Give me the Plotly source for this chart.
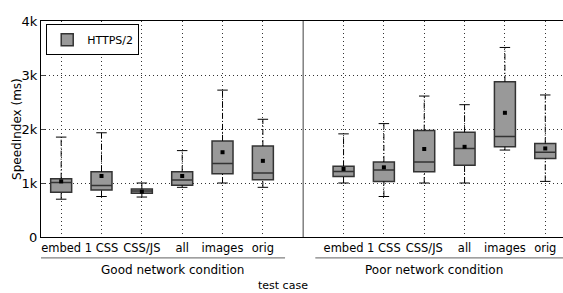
import plotly.graph_objects as go

categories = ["embed", "1 CSS", "CSS/JS", "all", "images", "orig"]
groups = ["Good network condition", "Poor network condition"]

# values in ms
good_lower = [700, 750, 740, 920, 1000, 920]
good_q1 = [830, 870, 810, 960, 1170, 1060]
good_median = [1010, 955, 850, 1055, 1360, 1185]
good_q3 = [1080, 1210, 890, 1210, 1780, 1685]
good_upper = [1850, 1930, 1000, 1600, 2720, 2180]
good_mean = [1030, 1130, 840, 1130, 1570, 1410]

poor_lower = [1000, 750, 1000, 1000, 1610, 1030]
poor_q1 = [1120, 1030, 1210, 1330, 1670, 1455]
poor_median = [1215, 1240, 1390, 1640, 1860, 1570]
poor_q3 = [1310, 1390, 1970, 1940, 2875, 1730]
poor_upper = [1910, 2100, 2610, 2450, 3510, 2630]
poor_mean = [1260, 1290, 1630, 1670, 2300, 1640]

pos_good = list(range(6))
pos_poor = [i + 7 for i in range(6)]
pos = pos_good + pos_poor
lower = good_lower + poor_lower
q1 = good_q1 + poor_q1
med = good_median + poor_median
q3 = good_q3 + poor_q3
upper = good_upper + poor_upper
mean = good_mean + poor_mean

FONT = "DejaVu Sans"
fig = go.Figure()

# whiskers (dash-dot)
wx, wy = [], []
for p, lo, a, b, hi in zip(pos, lower, q1, q3, upper):
    wx += [p, p, None, p, p, None]
    wy += [lo, a, None, b, hi, None]
fig.add_trace(go.Scatter(x=wx, y=wy, mode="lines", showlegend=False, hoverinfo="skip",
                         line=dict(color="black", width=1, dash="6px,2px,1px,2px")))
# caps
cw = 0.13
cx, cy = [], []
for p, lo, hi in zip(pos, lower, upper):
    cx += [p - cw, p + cw, None, p - cw, p + cw, None]
    cy += [lo, lo, None, hi, hi, None]
fig.add_trace(go.Scatter(x=cx, y=cy, mode="lines", showlegend=False, hoverinfo="skip",
                         line=dict(color="black", width=1)))

fig.add_trace(go.Box(
    name="HTTPS/2", x=pos, q1=q1, median=med, q3=q3, lowerfence=q1, upperfence=q3,
    width=0.52, whiskerwidth=0, fillcolor="#999999",
    line=dict(color="#333333", width=1.5), showlegend=True, hoverinfo="skip"))

fig.add_trace(go.Scatter(x=pos, y=mean, mode="markers", showlegend=False,
                         marker=dict(symbol="square", size=4, color="black")))

# separator
fig.add_shape(type="line", x0=6, x1=6, y0=0, y1=4000, xref="x", yref="y",
              line=dict(color="#808080", width=1.5))
# group underlines
fig.add_shape(type="line", x0=-0.5, x1=5.55, y0=-0.097, y1=-0.097, xref="x", yref="paper",
              line=dict(color="#808080", width=1.2))
fig.add_shape(type="line", x0=6.3, x1=12.6, y0=-0.097, y1=-0.097, xref="x", yref="paper",
              line=dict(color="#808080", width=1.2))
fig.add_annotation(text=groups[0], x=2.75, y=-0.153, xref="x", yref="paper",
                   showarrow=False, yanchor="middle", font=dict(size=12, family=FONT, color="black"))
fig.add_annotation(text=groups[1], x=9.25, y=-0.153, xref="x", yref="paper",
                   showarrow=False, yanchor="middle", font=dict(size=12, family=FONT, color="black"))
fig.add_annotation(text="test case", x=5.5, y=-0.225, xref="x", yref="paper",
                   showarrow=False, yanchor="middle", font=dict(size=11, family=FONT, color="black"))
fig.add_annotation(text="SpeedIndex (ms)", x=-0.046, y=0.5, xref="paper", yref="paper",
                   textangle=-90, showarrow=False, xanchor="center",
                   font=dict(size=12, family=FONT, color="black"))

fig.update_layout(
    width=563, height=293,
    margin=dict(l=41, r=0, t=21, b=56, autoexpand=False),
    plot_bgcolor="white", paper_bgcolor="white",
    font=dict(family=FONT, size=12, color="black"),
    showlegend=True,
    legend=dict(x=0.01, y=0.985, xanchor="left", yanchor="top",
                bordercolor="black", borderwidth=1, font=dict(size=11),
                bgcolor="white", tracegroupgap=0, itemwidth=30),
    xaxis=dict(range=[-0.5, 12.44], tickvals=pos, ticktext=categories + categories,
               tickangle=0, automargin=False,
               showgrid=True, gridcolor="#333333", griddash="1px,3px", gridwidth=1,
               showline=True, linecolor="black", linewidth=1.2, mirror=True,
               ticks="", zeroline=False, tickfont=dict(size=11.5)),
    yaxis=dict(range=[0, 4000], tickvals=[0, 1000, 2000, 3000, 4000],
               ticktext=["0", "1k", "2k", "3k", "4k"], automargin=False,
               showgrid=True, gridcolor="#333333", griddash="1px,3px", gridwidth=1,
               showline=True, linecolor="black", linewidth=1.2,
               ticks="inside", ticklen=4, zeroline=False, tickfont=dict(size=13)),
)

fig.write_html("out.html", config={"displayModeBar": False},
               post_script="document.body.style.margin='0px';document.body.style.overflow='hidden';")
